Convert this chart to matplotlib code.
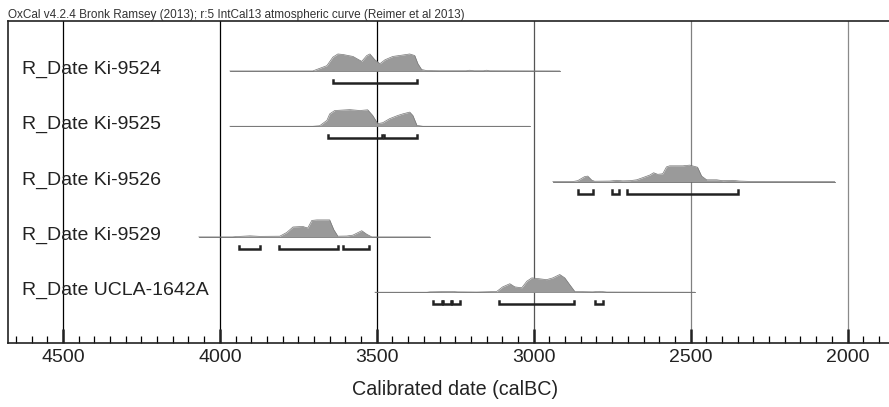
import matplotlib.pyplot as plt
import matplotlib.transforms as mtransforms

plt.rcParams['font.family'] = ['Liberation Sans', 'DejaVu Sans']

# sample names, top to bottom
names = ['R_Date Ki-9524', 'R_Date Ki-9525', 'R_Date Ki-9526', 'R_Date Ki-9529', 'R_Date UCLA-1642A']

# probability distributions (calBC, relative probability)
ki9524_dates = [3968, 3704, 3659, 3640, 3624, 3608, 3576, 3548, 3532, 3522, 3506, 3490, 3474, 3449, 3417,
                3395, 3379, 3369, 3357, 3341, 3300, 3215, 3204, 3190, 3160, 3150, 3140, 2917]
ki9524_prob = [0, 0, 0.3, 0.78, 0.96, 0.93, 0.82, 0.54, 0.87, 0.96, 0.63, 0.41, 0.63, 0.82, 0.9,
               0.96, 0.87, 0.41, 0.08, 0.02, 0.01, 0.01, 0.04, 0.01, 0.01, 0.04, 0.01, 0]

ki9525_dates = [3968, 3704, 3682, 3659, 3650, 3634, 3586, 3554, 3529, 3513, 3497, 3481, 3459, 3433, 3417,
                3395, 3385, 3372, 3353, 3013]
ki9525_prob = [0, 0, 0.03, 0.33, 0.7, 0.89, 0.94, 0.89, 0.93, 0.61, 0.15, 0.2, 0.43, 0.61, 0.7,
               0.8, 0.61, 0.05, 0, 0]

ki9526_dates = [2939, 2876, 2860, 2838, 2828, 2815, 2806, 2758, 2736, 2717, 2694, 2672, 2653, 2630, 2618,
                2605, 2589, 2577, 2567, 2525, 2503, 2478, 2465, 2449, 2417, 2398, 2366, 2344, 2312, 2041]
ki9526_prob = [0, 0, 0.05, 0.28, 0.31, 0.08, 0.02, 0.03, 0.07, 0.04, 0.05, 0.1, 0.22, 0.37, 0.5,
               0.41, 0.44, 0.83, 0.89, 0.89, 0.93, 0.81, 0.31, 0.1, 0.1, 0.05, 0.07, 0.03, 0.01, 0]

ki9529_dates = [4067, 3960, 3946, 3904, 3873, 3809, 3787, 3767, 3736, 3720, 3707, 3691, 3650, 3637, 3624,
                3596, 3576, 3548, 3532, 3516, 3331]
ki9529_prob = [0, 0, 0.02, 0.06, 0.03, 0.04, 0.25, 0.56, 0.59, 0.5, 0.93, 0.96, 0.96, 0.41, 0.04,
               0.05, 0.1, 0.35, 0.15, 0, 0]

ucla_dates = [3506, 3340, 3331, 3299, 3258, 3242, 3181, 3118, 3099, 3076, 3060, 3038, 3022, 3006, 2987,
              2959, 2939, 2917, 2901, 2885, 2869, 2812, 2790, 2767, 2487]
ucla_prob = [0, 0, 0.02, 0.03, 0.04, 0.02, 0.01, 0.04, 0.3, 0.48, 0.3, 0.25, 0.62, 0.81, 0.77,
             0.71, 0.81, 1.0, 0.81, 0.42, 0.04, 0.02, 0.05, 0.01, 0]

all_dates = [ki9524_dates, ki9525_dates, ki9526_dates, ki9529_dates, ucla_dates]
all_prob = [ki9524_prob, ki9525_prob, ki9526_prob, ki9529_prob, ucla_prob]

# 95.4% ranges
ranges = [
    [(3640, 3372)],
    [(3656, 3484), (3478, 3372)],
    [(2860, 2812), (2752, 2729), (2704, 2350)],
    [(3939, 3873), (3812, 3624), (3608, 3525)],
    [(3322, 3293), (3290, 3264), (3261, 3236), (3111, 2873), (2806, 2780)],
]

major_ticks = [4500, 4000, 3500, 3000, 2500, 2000]
grid_colors = ['black', 'black', 'black', '#555555', '#808080', '#8a8a8a']

fig = plt.figure(figsize=(8.89, 4.07), dpi=100)
ax = fig.add_axes([0.009, 0.157, 0.991, 0.791])

ax.set_xlim(4675, 1868)
ax.set_ylim(0.08, 5.9)

for x, c in zip(major_ticks, grid_colors):
    ax.axvline(x, color=c, lw=0.9, zorder=1)

scale = 0.32
trans = mtransforms.blended_transform_factory(ax.transAxes, ax.transData)
for i, name in enumerate(names):
    base = 5 - i
    d = all_dates[i]
    p = [base + v * scale for v in all_prob[i]]
    ax.plot([d[0], d[-1]], [base, base], color='#666666', lw=0.6, zorder=2)
    ax.fill_between(d, base, p, color='#9a9a9a', lw=0, zorder=3)
    ax.plot(d, p, color='#777777', lw=0.5, zorder=3)
    yb = base - 0.22
    for a, b in ranges[i]:
        ax.plot([a, a, b, b], [yb + 0.06, yb, yb, yb + 0.06], color='#222222', lw=1.8,
                solid_joinstyle='miter', zorder=4)
    ax.text(0.0155, base + 0.03, name, transform=trans, fontsize=14, va='center', ha='left',
            color='#222222', zorder=5)

ax.set_xticks(major_ticks)
ax.set_xticks(range(4650, 1850, -50), minor=True)
ax.tick_params(axis='x', which='major', direction='in', length=10, width=1.8, labelsize=14,
               pad=4, colors='#222222')
ax.tick_params(axis='x', which='minor', direction='in', length=5, width=0.9)
ax.set_yticks([])
ax.spines['right'].set_visible(False)
for s in ['left', 'top', 'bottom']:
    ax.spines[s].set_linewidth(1.2)
    ax.spines[s].set_color('#222222')

ax.set_xlabel('Calibrated date (calBC)', fontsize=14.2, labelpad=12, color='#222222')
ax.xaxis.set_label_coords(0.507, -0.115)

fig.text(0.009, 0.964, 'OxCal v4.2.4 Bronk Ramsey (2013); r:5 IntCal13 atmospheric curve (Reimer et al 2013)',
         fontsize=8.5, va='center', ha='left', color='#333333')

fig.savefig('out.png', dpi=100)
